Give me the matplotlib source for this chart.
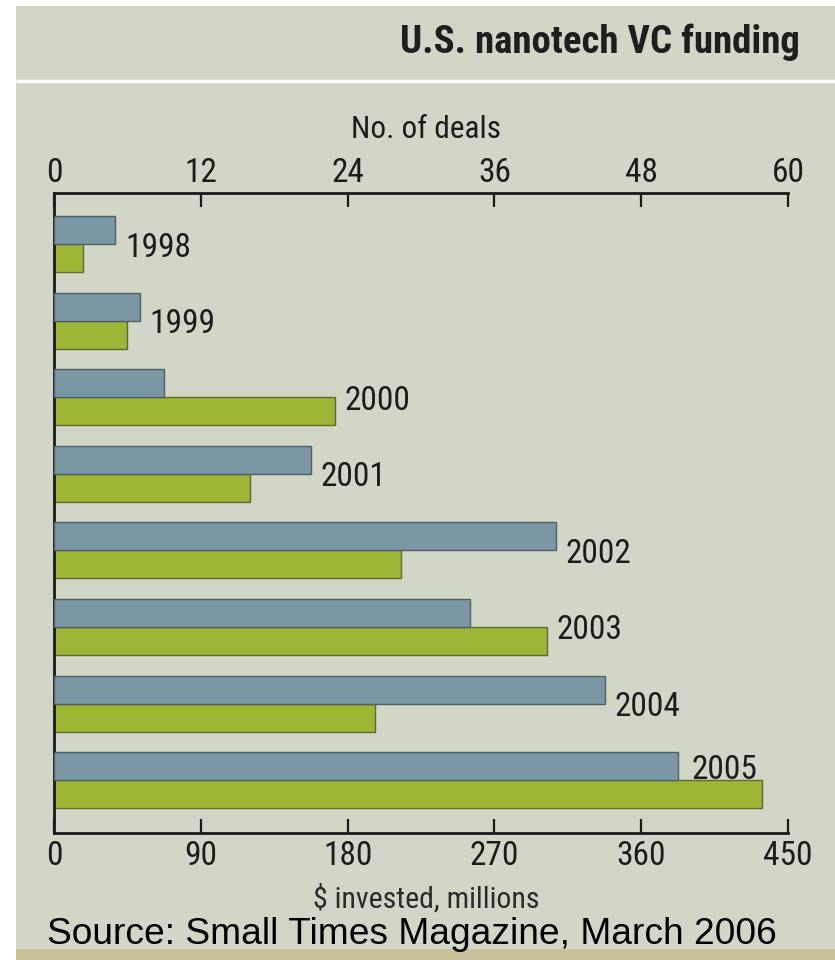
import numpy as np
import matplotlib
matplotlib.use('Agg')
import matplotlib.pyplot as plt
from matplotlib import font_manager
from matplotlib.patches import Rectangle

# values
years = ['1998', '1999', '2000', '2001', '2002', '2003', '2004', '2005']
deals = [5, 7, 9, 21, 41, 34, 45, 51]               # no. of deals (top axis)
invested = [18, 45, 172, 120, 213, 302, 197, 434]   # $ millions (bottom axis)
deal_ticks = [0, 12, 24, 36, 48, 60]
money_ticks = [0, 90, 180, 270, 360, 450]

BG = '#d1d6c7'
BLUE = '#7b97a6'
GREEN = '#9db636'
INK = '#1c1c1c'

names = {f.name for f in font_manager.fontManager.ttflist}
narrow = next((n for n in ['Roboto Condensed', 'Archivo Narrow', 'PT Sans Narrow',
                           'Barlow Condensed', 'Liberation Sans Narrow'] if n in names), 'DejaVu Sans')
plain = 'Liberation Sans' if 'Liberation Sans' in names else 'DejaVu Sans'
NARROW = [narrow, 'DejaVu Sans']

W, H = 835, 960
fig = plt.figure(figsize=(W / 100, H / 100), dpi=100)
fig.patch.set_facecolor('white')

# background panel drawn in pixel coordinates
bg = fig.add_axes([0, 0, 1, 1])
bg.set_xlim(0, W)
bg.set_ylim(H, 0)
bg.axis('off')
bg.add_patch(Rectangle((16, 6), W - 16, 943, color=BG, lw=0))
bg.add_patch(Rectangle((16, 949), W - 16, 11, color='#c9c19a', lw=0))
bg.plot([16, W], [80.5, 80.5], color='white', lw=2.5, solid_capstyle='butt')


def band(x0, x1, y0, y1, c_end, g0, g1):
    xs = np.linspace(x0, x1, 400)
    a = np.array(matplotlib.colors.to_rgb(BG))
    b = np.array(matplotlib.colors.to_rgb(c_end))
    t = np.clip((xs - g0) / (g1 - g0), 0, 1)[:, None]
    img = (a * (1 - t) + b * t)[None, :, :]
    bg.imshow(img, extent=(x0, x1, y1, y0), aspect='auto', interpolation='bilinear')


band(16, 810, 151, 192, '#7c97a5', 110, 720)
band(16, 815, 835, 873, '#9fba3a', 170, 720)
bg.set_xlim(0, W)
bg.set_ylim(H, 0)

# main axes: money on bottom, deals on top (twin)
ax = fig.add_axes([54 / W, 1 - 833 / H, (788 - 54) / W, 640 / H])
ax.patch.set_visible(False)
axt = ax.twiny()

h = 0.366
pos = np.arange(len(years))
axt.barh(pos - h, deals, height=h, align='edge', color=BLUE, edgecolor='#4e5f66', lw=1.0)
ax.barh(pos, invested, height=h, align='edge', color=GREEN, edgecolor='#5d6b2c', lw=1.0)

ax.set_xlim(0, 450)
axt.set_xlim(0, 60)
ax.set_ylim(7.69, -0.666)

for a in (ax, axt):
    for s in a.spines.values():
        s.set_visible(False)
    a.set_yticks([])
ax.spines['left'].set_visible(True)
ax.spines['bottom'].set_visible(True)
axt.spines['top'].set_visible(True)
for s in (ax.spines['left'], ax.spines['bottom'], axt.spines['top']):
    s.set_linewidth(2)
    s.set_color('#1a1a1a')

ax.set_xticks(money_ticks)
axt.set_xticks(deal_ticks)
ax.tick_params(axis='x', direction='in', length=10, width=1.6, color='#1a1a1a',
               pad=5, labelsize=24, labelcolor=INK)
axt.tick_params(axis='x', direction='in', length=10, width=1.6, color='#1a1a1a',
                pad=3, labelsize=24, labelcolor=INK)
for lab in ax.get_xticklabels() + axt.get_xticklabels():
    lab.set_family(NARROW)

# year labels next to the longer bar of each pair
scale = 450 / 60
room = 45
for i, yr in enumerate(years):
    blue_end = deals[i] * scale
    green_end = invested[i]
    if green_end + room > 450:
        # no room after the green bar: sit on the blue one
        xy, dx = (blue_end, i - h / 2), 10
    else:
        xy, dx = (max(blue_end, green_end), i), 7
    ax.annotate(yr, xy=xy, xytext=(dx, 0), textcoords='offset points',
                ha='left', va='center_baseline', fontsize=24, color=INK, family=NARROW)

cx = (54 + 798) / 2 / W
fig.text(cx, 1 - 130 / H, 'No. of deals', ha='center', va='center', fontsize=22.5,
         color=INK, family=NARROW)
fig.text(cx, 1 - 908 / H, '$ invested, millions', ha='center', va='baseline', fontsize=21.5,
         color='#2a2a2a', family=NARROW)
fig.text(800 / W, 1 - 42 / H, 'U.S. nanotech VC funding', ha='right', va='center',
         fontsize=28, weight='bold', color='#1e1e1e', family=NARROW)
fig.text(47 / W, 1 - 944 / H, 'Source: Small Times Magazine, March 2006', ha='left',
         va='baseline', fontsize=26.7, color='black', family=plain)

fig.savefig('out.png', dpi=100, facecolor=fig.get_facecolor())
